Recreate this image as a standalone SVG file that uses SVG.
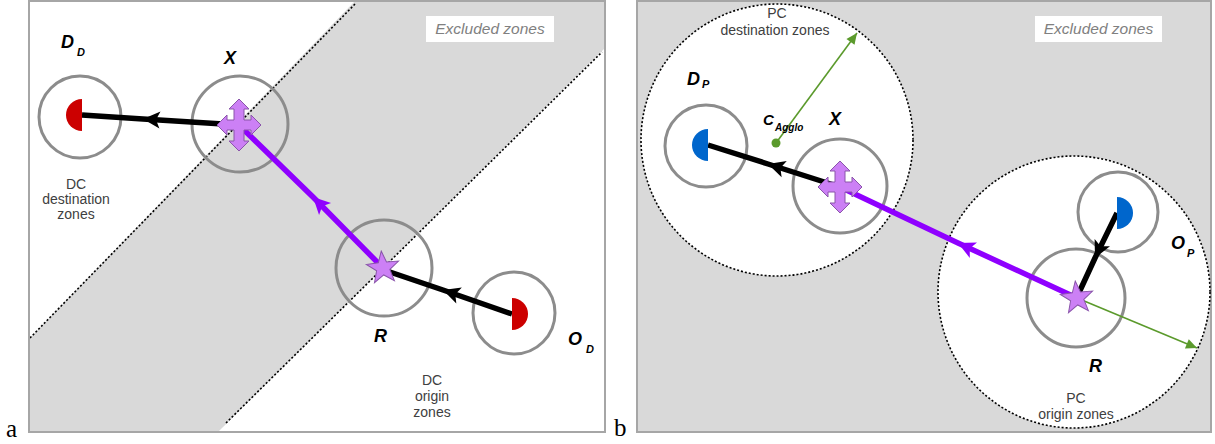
<svg xmlns="http://www.w3.org/2000/svg" width="1215" height="444" viewBox="0 0 1215 444">
<style>
.frame{fill:none;stroke:#a6a6a6;stroke-width:2}
.zone{fill:#ffffff;stroke:#000;stroke-width:1.6;stroke-dasharray:2 2}
.dotline{fill:none;stroke:#000;stroke-width:1.6;stroke-dasharray:2 2}
.ring{fill:none;stroke:#8c8c8c;stroke-width:3}
.blk{fill:none;stroke:#000;stroke-width:5.5;marker-mid:url(#ahBlack)}
.pur{fill:none;stroke:#8f00ff;stroke-width:5.5;marker-mid:url(#ahPurple)}
.grn{fill:none;stroke:#5b9a2c;stroke-width:1.6;marker-end:url(#ahGreen)}
.cross{fill:#cc80f5;stroke:#8a55aa;stroke-width:1}
.star{fill:#cc80f5;stroke:#8a55aa;stroke-width:1}
.lbl{font-family:"Liberation Sans",Arial,sans-serif;font-weight:bold;font-style:italic;fill:#000}
.txt{font-family:"Liberation Sans",Arial,sans-serif;font-size:14px;fill:#404040;text-anchor:middle}
.exc{font-family:"Liberation Sans",Arial,sans-serif;font-size:15.5px;font-style:italic;fill:#808080;text-anchor:middle}
.pl{font-family:"Liberation Serif","Times New Roman",serif;font-size:25px;fill:#000}
</style>
<defs>
<marker id="ahBlack" markerUnits="userSpaceOnUse" markerWidth="20" markerHeight="20" refX="17" refY="8.5" orient="auto" overflow="visible">
<path d="M0,0 L17,8.5 L0,17 L4,8.5 Z" fill="#000"/>
</marker>
<marker id="ahPurple" markerUnits="userSpaceOnUse" markerWidth="20" markerHeight="20" refX="17" refY="8.5" orient="auto" overflow="visible">
<path d="M0,0 L17,8.5 L0,17 L4,8.5 Z" fill="#8f00ff"/>
</marker>
<marker id="ahGreen" markerUnits="userSpaceOnUse" markerWidth="14" markerHeight="14" refX="11" refY="5" orient="auto" overflow="visible">
<path d="M0,0 L11,5 L0,10 Z" fill="#5b9a2c"/>
</marker>
<path id="crossShape" d="M0,-26 L10,-16 L5,-16 L5,-5 L12,-5 L12,-10 L22,0 L12,10 L12,5 L5,5 L5,16 L10,16 L0,26 L-10,16 L-5,16 L-5,5 L-12,5 L-12,10 L-22,0 L-12,-10 L-12,-5 L-5,-5 L-5,-16 L-10,-16 Z"/>
<polygon id="starShape" points="0,-17 4.11,-5.66 16.17,-5.25 6.66,2.16 10,13.75 0,7 -10,13.75 -6.66,2.16 -16.17,-5.25 -4.11,-5.66"/>
</defs>

<!-- Panel a background -->
<g id="panel-a-bg">
<rect x="29" y="1" width="576" height="431" fill="#ffffff"/>
<polygon points="355,1 604,1 604,49 218,432 29,432 29,339" fill="#d9d9d9"/>
<line class="dotline" x1="30" y1="338" x2="355" y2="4"/>
<line class="dotline" x1="226" y1="423" x2="602" y2="52"/>
<rect class="frame" x="29" y="1" width="576" height="431"/>
<rect x="426" y="16" width="128" height="26" fill="#ffffff"/>
<text class="exc" x="490" y="34">Excluded zones</text>
</g>

<!-- Panel b background -->
<g id="panel-b-bg">
<rect x="637" y="1" width="574" height="431" fill="#d9d9d9"/>
<rect class="frame" x="637" y="1" width="574" height="431"/>
<rect x="1035" y="16" width="127" height="26" fill="#ffffff"/>
<text class="exc" x="1098.5" y="34">Excluded zones</text>
</g>

<g id="zone-pc-destination">
<circle class="zone" cx="777" cy="140" r="136"/>
<text class="txt" x="777" y="18">PC</text>
<text class="txt" x="775" y="35">destination zones</text>
</g>
<g id="zone-pc-origin">
<circle class="zone" cx="1074" cy="292" r="136"/>
<text class="txt" x="1076" y="403">PC</text>
<text class="txt" x="1076" y="419">origin zones</text>
</g>

<!-- rings (zone circles) -->
<g id="rings">
<circle class="ring" cx="80" cy="117" r="41"/>
<circle class="ring" cx="240" cy="124" r="48"/>
<circle class="ring" cx="384" cy="268" r="48"/>
<circle class="ring" cx="514" cy="313" r="41"/>
<circle class="ring" cx="706" cy="146" r="41"/>
<circle class="ring" cx="840" cy="186" r="47"/>
<circle class="ring" cx="1118" cy="212" r="40"/>
<circle class="ring" cx="1076" cy="298" r="49"/>
</g>

<!-- connectors -->
<g id="connectors">
<path class="blk" d="M239,125 L143,119 L82,115"/>
<path class="blk" d="M512,314 L443,290 L384,270"/>
<path class="pur" d="M383,268 L313,197 L239,125"/>
<path class="blk" d="M840,187 L768,164 L708,145"/>
<path class="pur" d="M1077,298 L958,243 L840,187"/>
<path class="blk" d="M1117,213 L1095,258 L1077,297"/>
<line class="grn" x1="776" y1="143" x2="857" y2="33"/>
<line class="grn" x1="1077" y1="298" x2="1197" y2="348"/>
</g>

<!-- Panel a nodes -->
<g id="node-DD">
<path d="M82,99 A16,16 0 0 0 82,131 Z" fill="#cc0000"/>
<text class="lbl" x="61" y="48" font-size="18">D</text>
<text class="lbl" x="77" y="56" font-size="11">D</text>
<text class="txt" x="76" y="189">DC</text>
<text class="txt" x="76" y="204">destination</text>
<text class="txt" x="76" y="219">zones</text>
</g>
<g id="node-X-a">
<use href="#crossShape" class="cross" transform="translate(239,125)"/>
<text class="lbl" x="230" y="64" font-size="18" text-anchor="middle">X</text>
</g>
<g id="node-R-a">
<use href="#starShape" class="star" transform="translate(383,268) rotate(-6)"/>
<text class="lbl" x="374" y="342" font-size="18">R</text>
</g>
<g id="node-OD">
<path d="M512,298 A16,16 0 0 1 512,330 Z" fill="#cc0000"/>
<text class="lbl" x="568" y="345" font-size="18">O</text>
<text class="lbl" x="586" y="353" font-size="11">D</text>
<text class="txt" x="432" y="385">DC</text>
<text class="txt" x="432" y="401">origin</text>
<text class="txt" x="432" y="417">zones</text>
</g>

<!-- Panel b nodes -->
<g id="node-DP">
<path d="M708,129 A16,16 0 0 0 708,161 Z" fill="#0066cc"/>
<text class="lbl" x="687" y="85" font-size="18">D</text>
<text class="lbl" x="702" y="88" font-size="11">P</text>
</g>
<g id="node-CAgglo">
<circle cx="776" cy="143" r="4.5" fill="#5b9a2c"/>
<text class="lbl" x="763" y="125" font-size="15">C</text>
<text class="lbl" x="775" y="131" font-size="10">Agglo</text>
</g>
<g id="node-X-b">
<use href="#crossShape" class="cross" transform="translate(840,187)"/>
<text class="lbl" x="835" y="125" font-size="18" text-anchor="middle">X</text>
</g>
<g id="node-OP">
<path d="M1117,197 A16,16 0 0 1 1117,229 Z" fill="#0066cc"/>
<text class="lbl" x="1171" y="249" font-size="18">O</text>
<text class="lbl" x="1187" y="257" font-size="11">P</text>
</g>
<g id="node-R-b">
<use href="#starShape" class="star" transform="translate(1077,298) rotate(-6)"/>
<text class="lbl" x="1089" y="372" font-size="18">R</text>
</g>

<text class="pl" x="6" y="437">a</text>
<text class="pl" x="614" y="436">b</text>
</svg>
